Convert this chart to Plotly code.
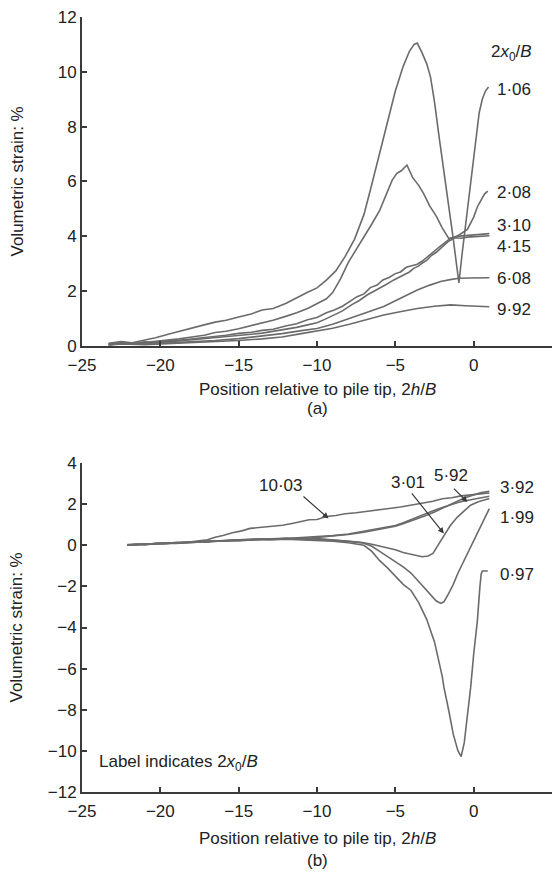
import plotly.graph_objects as go

# ---------------- (a) volumetric strain, top panel ----------------
a_x_106 = [-23.3, -22.5, -21.8, -21.0, -20.3, -19.5, -18.8, -18.0, -17.2, -16.5, -15.8, -15.0,
           -14.2, -13.5, -12.8, -12.0, -11.3, -10.6, -10.0, -9.4, -8.8, -8.2, -7.6, -7.0, -6.5,
           -6.0, -5.5, -5.0, -4.5, -4.1, -3.8, -3.6, -3.3, -3.0, -2.75, -2.5, -2.2, -1.9, -1.6,
           -1.3, -1.1, -0.94, -0.75, -0.5, -0.25, 0.0, 0.2, 0.35, 0.55, 0.75, 0.95]
a_y_106 = [0.10, 0.16, 0.12, 0.21, 0.30, 0.43, 0.54, 0.67, 0.77, 0.87, 0.94, 1.06,
           1.17, 1.31, 1.37, 1.55, 1.77, 1.96, 2.12, 2.40, 2.74, 3.27, 3.90, 4.80, 5.90,
           7.00, 8.20, 9.30, 10.20, 10.75, 11.00, 11.05, 10.70, 10.30, 9.80, 8.90, 7.60, 6.40, 5.20,
           3.90, 3.00, 2.30, 3.30, 4.50, 5.70, 6.85, 7.80, 8.50, 9.00, 9.30, 9.45]

a_x_208 = [-23.3, -22.5, -21.8, -21.0, -20.3, -19.5, -18.8, -18.0, -17.2, -16.5, -15.8, -15.0,
           -14.2, -13.5, -12.8, -12.0, -11.3, -10.6, -10.0, -9.4, -9.0, -8.5, -8.0, -7.5, -7.0,
           -6.5, -6.0, -5.6, -5.2, -4.9, -4.6, -4.26, -3.9, -3.5, -3.2, -2.8, -2.37, -2.0, -1.6,
           -1.2, -0.8, -0.4, 0.0, 0.24, 0.5, 0.7, 0.9]
a_y_208 = [0.05, 0.11, 0.08, 0.13, 0.15, 0.21, 0.26, 0.33, 0.39, 0.49, 0.54, 0.63,
           0.74, 0.86, 0.94, 1.08, 1.21, 1.37, 1.55, 1.72, 1.95, 2.45, 3.05, 3.50, 3.95,
           4.45, 4.95, 5.50, 6.05, 6.30, 6.40, 6.60, 6.15, 5.85, 5.57, 5.10, 4.72, 4.30, 3.93,
           3.95, 4.10, 4.25, 4.70, 5.08, 5.35, 5.55, 5.65]

a_x_310 = [-23.3, -22.5, -21.8, -21.0, -20.3, -19.5, -18.8, -18.0, -17.2, -16.5, -15.8, -15.0,
           -14.2, -13.5, -12.8, -12.0, -11.3, -10.6, -10.0, -9.4, -8.9, -8.4, -7.9, -7.44, -7.0,
           -6.6, -6.16, -5.8, -5.4, -5.0, -4.67, -4.3, -3.95, -3.6, -3.3, -2.9, -2.54, -2.2, -1.8,
           -1.47, -1.1, -0.7, -0.3, 0.1, 0.5, 1.0]
a_y_310 = [0.08, 0.13, 0.09, 0.15, 0.12, 0.19, 0.21, 0.26, 0.29, 0.35, 0.39, 0.46,
           0.50, 0.57, 0.61, 0.73, 0.81, 0.96, 1.04, 1.21, 1.31, 1.44, 1.63, 1.80, 1.90,
           2.13, 2.22, 2.41, 2.50, 2.64, 2.70, 2.87, 2.93, 2.98, 3.09, 3.26, 3.44, 3.61, 3.80,
           3.93, 4.00, 4.02, 4.05, 4.08, 4.10, 4.10]

a_x_415 = [-23.3, -22.5, -21.8, -21.0, -20.3, -19.5, -18.8, -18.0, -17.2, -16.5, -15.8, -15.0,
           -14.2, -13.5, -12.8, -12.0, -11.3, -10.6, -10.0, -9.5, -8.94, -8.4, -7.8, -7.3, -6.8,
           -6.4, -6.0, -5.5, -5.1, -4.7, -4.4, -4.1, -3.83, -3.5, -3.3, -3.0, -2.7, -2.4, -2.11,
           -1.85, -1.6, -1.2, -0.8, -0.4, 0.0, 0.5, 1.0]
a_y_415 = [0.05, 0.09, 0.12, 0.08, 0.13, 0.16, 0.18, 0.22, 0.26, 0.29, 0.34, 0.38,
           0.43, 0.47, 0.53, 0.60, 0.68, 0.77, 0.85, 0.97, 1.13, 1.27, 1.50, 1.66, 1.86,
           1.98, 2.12, 2.27, 2.41, 2.52, 2.63, 2.70, 2.83, 2.92, 3.02, 3.12, 3.30, 3.41, 3.56,
           3.70, 3.82, 3.95, 3.93, 3.97, 3.98, 4.00, 4.02]

a_x_608 = [-23.3, -22.4, -21.0, -19.5, -18.0, -16.5, -15.0, -13.5, -12.24, -11.0, -10.0, -9.0,
           -7.87, -6.8, -5.74, -4.7, -3.6, -2.8, -2.11, -1.5, -0.94, -0.3, 0.4, 1.0]
a_y_608 = [0.05, 0.09, 0.07, 0.11, 0.15, 0.20, 0.27, 0.36, 0.45, 0.56, 0.64, 0.79,
           1.01, 1.21, 1.44, 1.73, 2.04, 2.22, 2.35, 2.42, 2.47, 2.48, 2.49, 2.49]

a_x_992 = [-23.3, -22.4, -21.0, -19.5, -18.0, -16.5, -15.0, -13.5, -12.24, -11.0, -10.0, -9.0,
           -7.87, -6.8, -5.74, -4.7, -3.6, -2.5, -1.47, -0.5, 0.3, 1.0]
a_y_992 = [0.04, 0.07, 0.05, 0.09, 0.12, 0.15, 0.20, 0.26, 0.33, 0.45, 0.54, 0.65,
           0.80, 0.97, 1.13, 1.25, 1.37, 1.45, 1.50, 1.47, 1.44, 1.43]

a_series = [(a_x_106, a_y_106), (a_x_208, a_y_208), (a_x_310, a_y_310),
            (a_x_415, a_y_415), (a_x_608, a_y_608), (a_x_992, a_y_992)]
a_labels = ["1·06", "2·08", "3·10", "4·15", "6·08", "9·92"]
a_label_y = [9.37, 5.6, 4.38, 3.64, 2.47, 1.34]

# ---------------- (b) volumetric strain, bottom panel ----------------
b_x_1003 = [-22.1, -21.5, -21.0, -20.3, -19.6, -19.0, -18.3, -17.6, -17.0, -16.5, -16.0, -15.4,
            -14.8, -14.27, -13.6, -13.0, -12.2, -11.6, -11.07, -10.5, -10.0, -9.4, -8.8, -8.2,
            -7.5, -6.8, -6.1, -5.4, -4.67, -4.0, -3.3, -2.6, -2.0, -1.4, -0.8, -0.4, 0.2, 0.6, 1.0]
b_y_1003 = [0.00, 0.06, 0.02, 0.09, 0.08, 0.13, 0.14, 0.21, 0.27, 0.39, 0.47, 0.61,
            0.70, 0.82, 0.86, 0.93, 0.97, 1.06, 1.13, 1.24, 1.25, 1.40, 1.45, 1.53,
            1.58, 1.66, 1.71, 1.79, 1.86, 1.94, 2.06, 2.14, 2.26, 2.31, 2.40, 2.43, 2.48, 2.52, 2.54]

b_x_592 = [-22.1, -21.0, -20.0, -19.0, -18.0, -17.0, -16.0, -15.0, -14.0, -13.0, -12.0, -11.0,
           -10.0, -9.0, -8.0, -7.0, -6.0, -5.0, -4.5, -4.0, -3.5, -3.0, -2.5, -2.0, -1.5, -1.0,
           -0.6, 0.0, 0.5, 1.0]
b_y_592 = [0.02, 0.06, 0.07, 0.12, 0.14, 0.19, 0.21, 0.26, 0.29, 0.32, 0.33, 0.37,
           0.42, 0.47, 0.55, 0.68, 0.80, 0.96, 1.09, 1.25, 1.39, 1.56, 1.70, 1.84, 1.97, 2.08,
           2.15, 2.25, 2.32, 2.38]

b_x_392 = [-22.1, -21.0, -20.0, -19.0, -18.0, -17.0, -16.0, -15.0, -14.0, -13.0, -12.0, -11.0,
           -10.0, -9.0, -8.0, -7.0, -6.0, -5.0, -4.5, -4.0, -3.5, -3.0, -2.5, -2.0, -1.5, -1.0,
           -0.6, 0.0, 0.5, 1.0]
b_y_392 = [0.00, 0.04, 0.09, 0.10, 0.16, 0.17, 0.23, 0.24, 0.30, 0.29, 0.34, 0.31,
           0.38, 0.43, 0.52, 0.63, 0.77, 0.92, 1.05, 1.18, 1.33, 1.46, 1.62, 1.80, 1.98, 2.15,
           2.30, 2.45, 2.57, 2.62]

b_x_301 = [-22.1, -21.0, -20.0, -19.0, -18.0, -17.0, -16.0, -15.0, -14.0, -13.0, -12.0, -11.0,
           -10.0, -9.0, -8.0, -7.2, -6.5, -5.74, -5.0, -4.5, -4.0, -3.6, -3.3, -2.9, -2.6, -2.4,
           -2.1, -1.9, -1.5, -1.04, -0.6, -0.2, 0.3, 0.7, 1.0]
b_y_301 = [0.03, 0.05, 0.09, 0.11, 0.16, 0.19, 0.23, 0.24, 0.29, 0.31, 0.30, 0.29,
           0.33, 0.27, 0.22, 0.15, 0.05, -0.08, -0.22, -0.35, -0.45, -0.53, -0.56, -0.52, -0.40, -0.15,
           0.20, 0.50, 0.95, 1.37, 1.70, 1.95, 2.12, 2.22, 2.27]

b_x_199 = [-22.1, -21.0, -20.0, -19.0, -18.0, -17.0, -16.0, -15.0, -14.0, -13.0, -12.0, -11.0,
           -10.0, -9.0, -8.0, -7.0, -6.5, -6.0, -5.5, -5.1, -4.5, -4.0, -3.6, -3.2, -2.8, -2.4,
           -2.1, -1.9, -1.6, -1.3, -1.0, -0.6, -0.2, 0.3, 0.7, 1.0]
b_y_199 = [0.01, 0.06, 0.07, 0.13, 0.13, 0.20, 0.20, 0.27, 0.26, 0.32, 0.34, 0.30,
           0.30, 0.26, 0.19, 0.10, -0.05, -0.30, -0.55, -0.73, -1.05, -1.35, -1.70, -2.05, -2.40, -2.70,
           -2.83, -2.75, -2.35, -1.90, -1.35, -0.73, -0.10, 0.70, 1.30, 1.78]

b_x_097 = [-22.1, -21.0, -20.0, -19.0, -18.0, -17.0, -16.0, -15.0, -14.0, -13.0, -12.0, -11.0,
           -10.0, -9.0, -8.0, -7.0, -6.5, -6.0, -5.5, -5.0, -4.5, -4.0, -3.5, -3.0, -2.5, -2.0,
           -1.9, -1.6, -1.3, -1.0, -0.8, -0.6, -0.4, -0.19, 0.0, 0.24, 0.4, 0.48, 0.55, 0.9]
b_y_097 = [0.02, 0.04, 0.10, 0.09, 0.15, 0.15, 0.22, 0.21, 0.27, 0.26, 0.30, 0.26,
           0.25, 0.20, 0.12, 0.00, -0.30, -0.75, -1.10, -1.50, -1.90, -2.20, -2.80, -3.60, -4.70, -6.40,
           -6.90, -8.00, -9.20, -10.00, -10.28, -9.60, -8.30, -6.90, -5.30, -3.64, -2.00, -1.40, -1.25, -1.25]

b_series = [(b_x_1003, b_y_1003), (b_x_592, b_y_592), (b_x_392, b_y_392),
            (b_x_301, b_y_301), (b_x_199, b_y_199), (b_x_097, b_y_097)]

x_ticks = [-25, -20, -15, -10, -5, 0, 5]
a_y_ticks = [0, 2, 4, 6, 8, 10, 12]
b_y_ticks = [-12, -10, -8, -6, -4, -2, 0, 2, 4]


def fmt(v):
    return ("\u2212" + str(abs(v))) if v < 0 else str(v)


LINE = "#6b6b6b"
AXIS = "#3a3a3a"
TEXT = "#222222"
FONT = "Liberation Sans, Arial, Helvetica, sans-serif"

fig = go.Figure()
for xs, ys in a_series:
    fig.add_trace(go.Scatter(x=xs, y=ys, mode="lines", xaxis="x", yaxis="y",
                             line=dict(color=LINE, width=1.6), showlegend=False,
                             hoverinfo="skip"))
for xs, ys in b_series:
    fig.add_trace(go.Scatter(x=xs, y=ys, mode="lines", xaxis="x2", yaxis="y2",
                             line=dict(color=LINE, width=1.6), showlegend=False,
                             hoverinfo="skip"))

axis_common = dict(showline=True, linecolor=AXIS, linewidth=2, ticks="inside",
                   ticklen=5, tickwidth=1.6, tickcolor=AXIS, showgrid=False,
                   zeroline=False, tickfont=dict(family=FONT, size=17, color=TEXT))

fig.update_layout(
    width=556, height=875,
    margin=dict(l=82, r=4, t=17, b=83),
    paper_bgcolor="white", plot_bgcolor="white",
    font=dict(family=FONT, color=TEXT, size=17),
    xaxis=dict(domain=[0, 1], anchor="y", range=[-25, 5], tickvals=x_ticks,
               ticktext=[fmt(v) for v in x_ticks], ticklabelstandoff=3, **axis_common),
    yaxis=dict(domain=[0.5755, 1], anchor="x", range=[0, 12], tickvals=a_y_ticks,
               ticktext=[fmt(v) for v in a_y_ticks], **axis_common),
    xaxis2=dict(domain=[0, 1], anchor="y2", range=[-25, 5], tickvals=x_ticks,
                ticktext=[fmt(v) for v in x_ticks], ticklabelstandoff=3, **axis_common),
    yaxis2=dict(domain=[0, 0.4245], anchor="x2", range=[-12, 4], tickvals=b_y_ticks,
                ticktext=[fmt(v) for v in b_y_ticks], **axis_common),
)

ann = []
# curve labels, panel (a)
ann.append(dict(x=0.96, y=10.68, xref="x", yref="y", text="2<i>x</i><sub>0</sub>/<i>B</i>",
                showarrow=False, xanchor="left", yanchor="middle"))
for lab, ly in zip(a_labels, a_label_y):
    ann.append(dict(x=1.34, y=ly, xref="x", yref="y", text=lab, showarrow=False,
                    xanchor="left", yanchor="middle"))

# curve labels, panel (b)
for lab, lx, ly in [("3·92", 1.54, 2.83), ("1·99", 1.54, 1.37), ("0·97", 1.54, -1.41)]:
    ann.append(dict(x=lx, y=ly, xref="x2", yref="y2", text=lab, showarrow=False,
                    xanchor="left", yanchor="middle"))
for lab, lx, ly in [("10·03", -12.3, 2.91), ("3·01", -4.19, 3.07), ("5·92", -1.47, 3.4)]:
    ann.append(dict(x=lx, y=ly, xref="x2", yref="y2", text=lab, showarrow=False,
                    xanchor="center", yanchor="middle"))
# arrows pointing from labels to their curves
for tx, ty, axp, ayp in [(-9.26, 1.30, -26.6, -23.3), (-1.9, 0.57, -33.3, -41.6),
                         (-0.4, 2.1, -15, -15)]:
    ann.append(dict(x=tx, y=ty, xref="x2", yref="y2", text="", showarrow=True,
                    ax=axp, ay=ayp, arrowhead=2, arrowsize=1, arrowwidth=1.2,
                    arrowcolor=AXIS))
ann.append(dict(x=-24.07, y=-10.58, xref="x2", yref="y2",
                text="Label indicates 2<i>x</i><sub>0</sub>/<i>B</i>", showarrow=False,
                xanchor="left", yanchor="middle"))

# axis titles and panel captions
for yref, title_shift, cap_shift in [("y domain", -44, -63), ("y2 domain", -46, -68)]:
    xr = "x domain" if yref == "y domain" else "x2 domain"
    ann.append(dict(x=0.5, y=0, xref=xr, yref=yref, yanchor="middle", showarrow=False,
                    text="Position relative to pile tip, 2<i>h</i>/<i>B</i>",
                    yshift=title_shift))
    ann.append(dict(x=0.5, y=0, xref=xr, yref=yref, yanchor="middle", showarrow=False,
                    text="(a)" if yref == "y domain" else "(b)", yshift=cap_shift))
    ann.append(dict(x=0, y=0.5, xref=xr, yref=yref, xanchor="center", yanchor="middle",
                    showarrow=False, text="Volumetric strain: %", textangle=-90,
                    xshift=-65))

fig.update_layout(annotations=ann)
fig.write_html("out.html")
